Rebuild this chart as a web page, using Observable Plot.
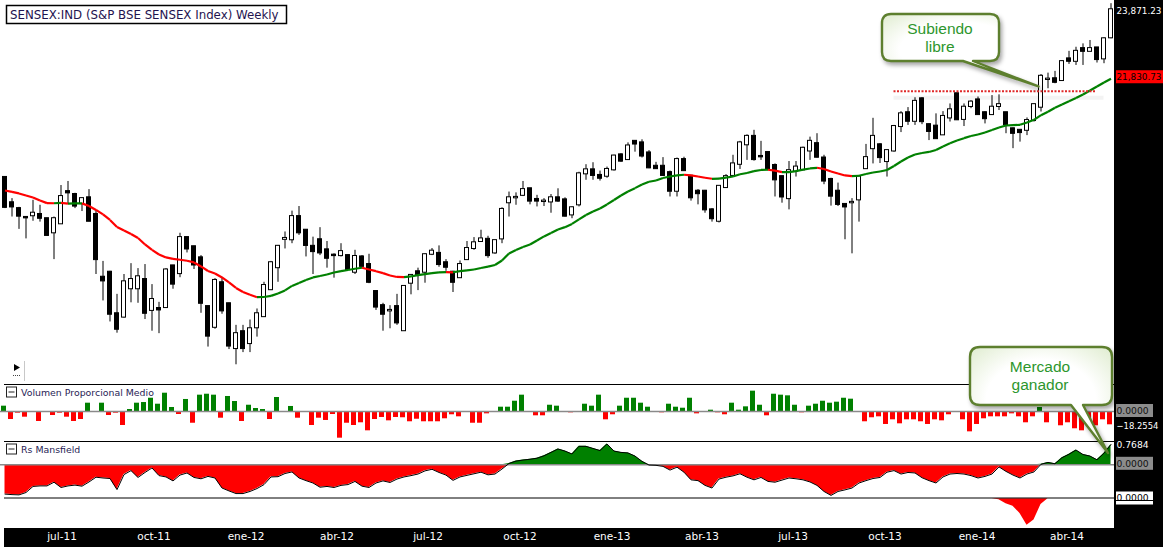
<!DOCTYPE html>
<html><head><meta charset="utf-8">
<script src="https://cdn.jsdelivr.net/npm/d3@7"></script>
<script src="https://cdn.jsdelivr.net/npm/@observablehq/plot@0.6"></script>
<style>
html,body{margin:0;padding:0;background:#fff;overflow:hidden;}
#wrap{position:relative;width:1163px;height:547px;background:#fff;overflow:hidden;}
</style></head><body><div id="wrap"></div>
<script>
// ---------- DATA ----------
const firstWeek = "2011-05-02"; // Monday of the first weekly candle
const openP = [19210,18590,18450,18240,18280,18310,18210,17880,18090,18860,
18790,18570,18710,18310,16880,16990,16100,16030,16630,16630,
16830,16170,16210,16230,17130,16960,17770,17560,17310,16250,
15820,16760,16310,15390,15730,15490,15810,16040,16610,17090,
17730,17720,18260,17940,17570,17720,17490,17370,17360,17360,
16990,17330,17160,16570,16270,16160,16250,15750,16750,17000,
16990,17390,17410,17200,16990,16870,17270,17520,17680,17730,
17420,17740,18590,18710,18770,18930,18670,18620,18610,18710,
18660,18300,18540,19300,19400,19260,19240,19400,19780,19660,
20130,20090,19830,19490,19490,19330,18870,19660,19240,18870,
18870,18420,18150,18960,19260,19540,20040,20260,19740,19840,
19510,19230,18690,19360,19400,19880,20070,19700,19160,18870,
18550,18590,18660,19430,19940,20040,19610,19880,20520,20890,
20660,21270,20570,20530,20300,20750,21410,20710,21060,21240,
20890,20840,21060,20890,20460,20420,20420,20680,21040,21810,
21830,21780,22400,22330,22700,22620,22720,22400,23020];
const highP = [19220,18690,18480,18250,18650,18530,18220,18250,19010,19110,
18820,18700,18910,18410,17230,17010,16510,16940,17180,17070,
17160,16720,16340,17070,17140,17870,17780,17570,17360,16260,
16850,16880,16320,15860,15860,15970,16200,16770,17230,17590,
17900,18390,18500,17950,17780,18000,17680,17400,17630,17380,
17480,17360,17390,16580,16320,16270,16510,16690,16930,17080,
17400,17520,17580,17270,17010,17240,17680,17770,17940,17800,
17700,18470,18850,18830,19110,18940,18770,18690,18790,18930,
18710,18490,19340,19530,19580,19370,19470,19770,19810,20090,
20150,20170,19890,19590,19710,19370,19700,19720,19260,18910,
18890,18450,18990,19280,19770,20130,20300,20420,20130,19850,
19550,19240,19610,19610,19980,20240,20330,19770,19190,19070,
18560,18690,19220,20050,20740,20070,19900,20550,20920,21030,
21300,21300,20590,20860,20920,21130,21430,21130,21220,21320,
20920,21360,21380,20900,20480,20430,20750,21130,21950,21990,
22040,22350,22620,22740,22840,22940,22730,23020,24060];
const lowP = [18450,18250,17960,17740,18150,18130,17800,17270,18090,18570,
18450,18380,18140,16940,16370,15930,15700,16010,16330,16320,
15980,15740,15690,16220,16620,16870,17420,17050,16110,15420,
15780,16090,15370,15070,15310,15310,15620,16030,16590,16770,
17510,17630,17820,17330,16940,17360,17080,16860,17330,17030,
16940,17100,16740,16170,15740,15790,15860,15740,16500,16590,
16750,17360,17100,17010,16550,16860,17260,17480,17670,17300,
17390,17630,18250,18530,18740,18540,18490,18500,18340,18600,
18250,18210,18490,19140,19140,19120,19190,19370,19590,19640,
19850,19700,19430,19410,19240,18730,18730,19370,18630,18540,
18340,18130,18110,18950,19240,19410,19640,19620,19640,19380,
18730,18580,18420,19220,19380,19640,19700,19030,18510,18500,
17720,17400,18130,19420,19550,19560,19220,19850,20360,20550,
20550,20570,20150,20180,20290,20640,20680,20520,21000,20820,
20590,20820,20950,20330,19940,20110,20280,20640,20910,21550,
21690,21760,22240,22210,22210,22620,22280,22260,22990];
const closeP = [18480,18490,18270,18230,18340,18220,17820,18210,18740,18830,
18510,18690,18150,17270,16800,16090,15780,16780,16830,16890,
16110,16400,16180,17040,16730,17770,17510,17150,16320,15640,
16810,16160,15440,15690,15390,15790,16100,16700,17200,17570,
17750,18260,17880,17590,17450,17420,17300,17360,17450,17050,
17340,17120,16770,16240,16090,16170,15910,16680,16920,16920,
17380,17460,17160,17100,16770,17160,17520,17650,17740,17360,
17700,18430,18710,18720,18910,18630,18630,18630,18710,18630,
18270,18470,19300,19400,19260,19190,19410,19750,19620,20010,
20060,19750,19450,19430,19260,18870,19660,19380,18710,18810,
18420,18210,18990,19230,19550,20090,20260,19660,19730,19410,
19150,18730,19380,19470,19950,20130,19720,19120,18750,18550,
18490,18600,19220,19710,20260,19710,19890,20520,20860,20660,
21200,20650,20390,20200,20790,20970,20700,21040,21180,20840,
20730,21040,21110,20570,20340,20360,20680,21110,21900,21820,
21730,22320,22330,22620,22620,22700,22380,22990,23871.23];
const movingAvg = [18889,18853,18816,18767,18719,18646,18581,18579,18588,18569,
18574,18576,18514,18418,18311,18181,18017,17935,17854,17762,
17613,17488,17386,17319,17285,17267,17244,17207,17118,17018,
16963,16876,16767,16648,16562,16502,16449,16453,16477,16530,
16594,16691,16756,16821,16876,16908,16941,16985,17013,17040,
17067,17089,17051,17013,16970,16919,16886,16882,16898,16926,
16948,16970,16985,16994,16989,17013,17029,17051,17084,17113,
17151,17251,17409,17488,17556,17613,17704,17797,17877,17958,
18012,18087,18193,18299,18382,18454,18550,18658,18767,18865,
18946,19036,19103,19135,19197,19234,19260,19277,19260,19234,
19202,19177,19180,19205,19234,19289,19322,19367,19397,19402,
19379,19342,19344,19367,19404,19435,19452,19422,19359,19309,
19260,19242,19252,19297,19334,19359,19397,19498,19612,19714,
19790,19829,19855,19906,19997,20080,20152,20213,20271,20310,
20362,20428,20495,20548,20556,20566,20628,20700,20825,20916,
21025,21115,21205,21293,21390,21501,21613,21725,21830.73];
const volumenProp = [7.3,-11.0,-2.3,-7.8,0,-13.7,0,-5.5,-2.3,-7.8,
-13.7,-11.0,11.4,0,11.4,-5.5,-2.3,-19.2,2.7,11.4,
12.3,18.2,10.0,25.1,5.5,-4.1,16.5,-16.1,22.4,23.7,
22.4,-9.2,20.6,13.7,-13.7,8.6,4.1,2.7,-11.0,19.2,
0,6.9,-9.2,0,-19.2,-9.2,-12.3,-4.1,-36.6,-16.1,
-19.2,-15.5,-26.5,-11.0,-8.2,-12.8,-8.2,-8.6,-14.1,-10.6,
-14.1,-14.1,-14.1,-10.0,-4.5,-7.3,0,-16.1,-16.1,-3.2,
0,5.9,5.9,14.1,22.4,0,-5.9,-5.9,8.6,7.3,
0,-1.8,0,10.0,7.3,22.4,-11.4,-4.5,7.3,18.2,
18.2,11.4,5.9,0,-1.8,10.0,5.9,4.5,18.2,-3.2,
0,1.8,-1.8,-4.5,11.4,1.8,6.4,27.9,8.6,-5.9,
23.7,22.4,21.5,8.6,-1.8,7.3,10.0,14.1,11.4,12.8,
18.2,16.9,0,-14.1,-8.6,-7.3,-17.8,-11.4,-16.9,-11.4,
-11.4,-14.1,-17.8,-11.4,-12.8,-4.5,0,-11.4,-27.9,-17.8,
-10.0,-7.3,-7.3,-7.3,-3.2,-7.3,-15.5,-7.3,5.5,-15.5,
0,-19.6,-15.5,-23.7,-26.5,-21.0,-19.6,-11.4,-18.2554];
const rsMansfield = [-1.11,-1.13,-1.14,-1.05,-0.82,-0.80,-0.80,-0.66,-0.86,-0.80,
-0.77,-0.81,-0.65,-0.47,-0.50,-0.52,-0.94,-0.37,-0.22,-0.48,
-0.29,-0.12,-0.41,-0.46,-0.61,-0.39,-0.31,-0.48,-0.53,-0.44,
-0.50,-0.88,-0.99,-1.09,-1.09,-1.01,-0.90,-0.75,-0.46,-0.45,
-0.33,-0.27,-0.50,-0.60,-0.69,-0.85,-0.82,-0.86,-0.78,-0.75,
-0.63,-0.81,-0.86,-0.69,-0.61,-0.67,-0.54,-0.46,-0.41,-0.35,
-0.23,-0.17,-0.29,-0.39,-0.59,-0.46,-0.40,-0.34,-0.28,-0.38,
-0.35,-0.16,0.05,0.14,0.18,0.21,0.25,0.34,0.47,0.60,
0.52,0.41,0.70,0.70,0.62,0.54,0.79,0.52,0.47,0.45,
0.33,0.13,-0.01,-0.02,-0.06,-0.20,-0.09,-0.28,-0.57,-0.60,
-0.78,-0.88,-0.54,-0.47,-0.42,-0.34,-0.47,-0.57,-0.48,-0.63,
-0.66,-0.58,-0.50,-0.53,-0.57,-0.65,-0.78,-1.01,-1.16,-1.01,
-0.95,-0.88,-0.69,-0.60,-0.52,-0.48,-0.28,-0.22,-0.35,-0.29,
-0.31,-0.49,-0.60,-0.69,-0.46,-0.35,-0.33,-0.35,-0.41,-0.50,
-0.44,-0.35,-0.08,-0.25,-0.39,-0.50,-0.35,-0.27,0.02,0.09,
0.04,0.27,0.40,0.56,0.39,0.33,0.19,0.44,0.7684];
// third (lower) indicator: non-zero stretch starting at week index 141 (0-based)
const lowerStart = 141;
const lowerValues = [0,-0.04,-0.19,-0.28,-0.56,-1.0,-0.80,-0.22,0];
const resistanceLevel = 21480, resistanceFrom = 127, resistanceTo = 156;
const tickLabels = ["jul-11","oct-11","ene-12","abr-12","jul-12","oct-12","ene-13","abr-13","jul-13","oct-13","ene-14","abr-14"];
const tickDates = ["2011-07-01","2011-10-01","2012-01-01","2012-04-01","2012-07-01","2012-10-01","2013-01-01","2013-04-01","2013-07-01","2013-10-01","2014-01-01","2014-04-01"];

// ---------- BUILD ----------
const wrap = document.getElementById("wrap");
const n = openP.length;
const d0 = new Date(firstWeek + "T00:00:00Z");
const dates = d3.range(n).map(i => d3.utcDay.offset(d0, 7 * i));
const DAY = 864e5;
const candles = dates.map((d, i) => ({date: d, o: openP[i], h: highP[i], l: lowP[i], c: closeP[i]}));
const maSegs = d3.range(n - 1).map(i => ({x1: dates[i], x2: dates[i + 1], y1: movingAvg[i], y2: movingAvg[i + 1], up: movingAvg[i + 1] >= movingAvg[i]}));
const volData = dates.map((d, i) => ({date: d, v: volumenProp[i]}));
const rsData = dates.map((d, i) => ({date: d, v: rsMansfield[i]}));
const lowerData = lowerValues.map((v, k) => ({date: dates[lowerStart + k], v}));
const ticks = tickDates.map((t, k) => ({date: new Date(t + "T00:00:00Z"), label: tickLabels[k]}));

const xOpts = {type: "utc", domain: [dates[0], dates[n - 1]], range: [4.5, 1110.5], axis: null};
const baseStyle = {background: "transparent", fontFamily: "DejaVu Sans, sans-serif", overflow: "visible"};
function place(el, top) {
  el.style.position = "absolute"; el.style.left = "0px"; el.style.top = top + "px";
  wrap.appendChild(el); return el;
}
const GREEN = "#008000", RED = "#ff0000";

// main price panel
const mainPlot = Plot.plot({
  width: 1163, height: 384, margin: 0,
  x: xOpts,
  y: {type: "log", domain: [14690, 24160], range: [384, 0], axis: null},
  color: {type: "identity"},
  style: baseStyle,
  marks: [
    Plot.ruleY([{y: resistanceLevel * 0.9915, x1: dates[resistanceFrom], x2: dates[resistanceTo + 1]}],
      {y: "y", x1: "x1", x2: "x2", stroke: "#dcdcdc", strokeWidth: 4, strokeOpacity: 0.35}),
    Plot.ruleX(candles, {x: "date", y1: "l", y2: "h", stroke: "#000", strokeWidth: 1}),
    Plot.rect(candles, {
      x1: d => new Date(+d.date - 2 * DAY), x2: d => new Date(+d.date + 2 * DAY),
      y1: "o", y2: "c", fill: d => d.c >= d.o ? "#fff" : "#000",
      stroke: "#000", strokeWidth: 1, insetTop: -0.5, insetBottom: -0.5
    }),
    Plot.link(maSegs, {x1: "x1", y1: "y1", x2: "x2", y2: "y2", stroke: d => d.up ? GREEN : RED, strokeWidth: 2.2}),
    Plot.ruleY([{y: resistanceLevel, x1: dates[resistanceFrom], x2: dates[resistanceTo]}],
      {y: "y", x1: "x1", x2: "x2", stroke: "#e02828", strokeWidth: 2, strokeDasharray: "2,1.5"})
  ]
});
place(mainPlot, 0);

// volume panel
const volPlot = Plot.plot({
  width: 1163, height: 57, margin: 0,
  x: xOpts,
  y: {domain: [-41.16, 37.04], range: [57, 0], axis: null},
  color: {type: "identity"},
  style: baseStyle,
  marks: [
    Plot.rect(volData, {x1: d => new Date(+d.date - 2.5 * DAY), x2: d => new Date(+d.date + 2.5 * DAY), y1: 0, y2: "v",
      fill: d => d.v >= 0 ? GREEN : RED, dx: -1}),
    Plot.ruleY([0], {stroke: "#8a8a8a", strokeWidth: 1.5})
  ]
});
place(volPlot, 384);

// Rs Mansfield panel
const rsPlot = Plot.plot({
  width: 1163, height: 57, margin: 0,
  x: xOpts,
  y: {domain: [-1.277, 0.883], range: [57, 0], axis: null},
  style: baseStyle,
  marks: [
    Plot.area(rsData, {x1: "date", y1: 0, y2: d => Math.min(d.v, 0), fill: RED}),
    Plot.area(rsData, {x1: "date", y1: 0, y2: d => Math.max(d.v, 0), fill: GREEN}),
    Plot.ruleY([0], {stroke: "#8a8a8a", strokeWidth: 1.5}),
    Plot.line(rsData, {x: "date", y: "v", stroke: "#000", strokeWidth: 1})
  ]
});
place(rsPlot, 441);

// lower panel
const lowPlot = Plot.plot({
  width: 1163, height: 30, margin: 0,
  x: xOpts,
  y: {domain: [-1.126, 0.011], range: [30, 0], axis: null},
  style: baseStyle,
  marks: [
    Plot.area(lowerData, {x1: "date", y1: 0, y2: "v", fill: RED})
  ]
});
place(lowPlot, 498);

// time axis strip
const axisPlot = Plot.plot({
  width: 1163, height: 19, margin: 0,
  x: xOpts,
  y: {domain: [0, 1], range: [19, 0], axis: null},
  style: {background: "#000", fontFamily: "DejaVu Sans, sans-serif"},
  marks: [
    Plot.text(ticks, {x: "date", y: 0.5, text: "label", fill: "#fff", fontSize: 10.5, dx: -3, dy: -1})
  ]
});
place(axisPlot, 528);

// ---------- overlay: frame, labels, callouts ----------
const xsS = mainPlot.scale("x"), ysS = mainPlot.scale("y"), rsS = rsPlot.scale("y"), vS = volPlot.scale("y");
const xs = v => xsS.apply(v), ys = v => ysS.apply(v), rsY = v => rsS.apply(v), vY = v => vS.apply(v);
const svg = d3.create("svg").attr("width", 1163).attr("height", 547)
  .style("position", "absolute").style("left", "0px").style("top", "0px")
  .style("font-family", "DejaVu Sans, sans-serif");
const defs = svg.append("defs");
const grad = defs.append("radialGradient").attr("id", "bub").attr("cx", "50%").attr("cy", "50%").attr("r", "70%");
grad.append("stop").attr("offset", "55%").attr("stop-color", "#ffffff");
grad.append("stop").attr("offset", "100%").attr("stop-color", "#dfeccf");

// right strip and left gap of bottom strip
svg.append("rect").attr("x", 1114).attr("y", 0).attr("width", 49).attr("height", 547).attr("fill", "#000");
svg.append("rect").attr("x", 0).attr("y", 528).attr("width", 4).attr("height", 19).attr("fill", "#fff");
// panel separators
[384.5, 441.5, 498].forEach(y => svg.append("line").attr("x1", 4).attr("x2", 1114).attr("y1", y).attr("y2", y)
  .attr("stroke", "#000").attr("stroke-width", 1));

// title
svg.append("rect").attr("x", 6.5).attr("y", 5.5).attr("width", 280).attr("height", 18)
  .attr("fill", "#fff").attr("stroke", "#000").attr("stroke-width", 1.5);
svg.append("text").attr("x", 10).attr("y", 18.5).attr("font-size", 11.8).attr("fill", "#1f1450")
  .text("SENSEX:IND (S&P BSE SENSEX Index) Weekly");

// panel titles
function panelTitle(y, label) {
  svg.append("rect").attr("x", 6.5).attr("y", y + 0.5).attr("width", 10).attr("height", 10)
    .attr("fill", "#fff").attr("stroke", "#222").attr("stroke-width", 1);
  svg.append("line").attr("x1", 8.5).attr("x2", 14.5).attr("y1", y + 5.5).attr("y2", y + 5.5).attr("stroke", "#222");
  svg.append("text").attr("x", 21).attr("y", y + 9).attr("font-size", 9.4).attr("fill", "#281c55").text(label);
}
panelTitle(386.5, "Volumen Proporcional Medio");
panelTitle(443.5, "Rs Mansfield");

// play control
svg.append("path").attr("d", "M14,364 L20,367.5 L14,371 Z").attr("fill", "#000");
svg.append("line").attr("x1", 13).attr("x2", 21).attr("y1", 375.5).attr("y2", 375.5).attr("stroke", "#444").attr("stroke-dasharray", "1,1");
svg.append("line").attr("x1", 24.5).attr("x2", 24.5).attr("y1", 361).attr("y2", 381).attr("stroke", "#c8c8c8");

// right-hand value labels
function valueLabel(yc, text, opts) {
  if (opts.box) svg.append("rect").attr("x", 1116).attr("y", yc - 6.5).attr("width", opts.w || 47).attr("height", 13).attr("fill", opts.box);
  svg.append("text").attr("x", 1116.5).attr("y", yc + 3.3).attr("font-size", opts.fs || 9.2)
    .attr("textLength", opts.len || null).attr("lengthAdjust", "spacingAndGlyphs")
    .attr("fill", opts.color).text(text);
}
const fmt = d3.format(",.2f");
valueLabel(ys(closeP[n - 1]) + 1.5, fmt(closeP[n - 1]), {color: "#ffffff", len: 45});
valueLabel(ys(movingAvg[n - 1]) - 1.5, fmt(movingAvg[n - 1]), {color: "#000", box: "#ff0000", len: 45});
valueLabel(384 + vY(0) - 0.5, "0.0000", {color: "#111", box: "#8c8c8c", w: 37});
valueLabel(384 + vY(volumenProp[n - 1]) + 1, d3.format(".4f")(volumenProp[n - 1]), {color: "#fff", len: 42});
valueLabel(441 + rsY(rsMansfield[n - 1]) + 1, d3.format(".4f")(rsMansfield[n - 1]), {color: "#fff"});
valueLabel(441 + rsY(0) - 1, "0.0000", {color: "#111", box: "#8c8c8c", w: 37});
valueLabel(498, "0.0000", {color: "#000", box: "#ffffff", w: 37});
svg.append("line").attr("x1", 1114).attr("x2", 1153).attr("y1", 500.5).attr("y2", 500.5).attr("stroke", "#000");

// callout bubbles
function bubble(x, y, w, h, r, t0, t1, tipX, tipY, lines, cx, baselines) {
  const b = y + h;
  const d = `M${x + r},${y} H${x + w - r} Q${x + w},${y} ${x + w},${y + r} V${b - r} Q${x + w},${b} ${x + w - r},${b} ` +
    `H${t1} L${tipX},${tipY} L${t0},${b} H${x + r} Q${x},${b} ${x},${b - r} V${y + r} Q${x},${y} ${x + r},${y} Z`;
  svg.append("path").attr("d", d).attr("fill", "url(#bub)").attr("stroke", "#5d7f2e").attr("stroke-width", 2.4)
    .attr("stroke-linejoin", "round").style("filter", "drop-shadow(2px 3px 2px rgba(0,0,0,0.35))");
  lines.forEach((t, k) => svg.append("text").attr("x", cx).attr("y", baselines[k]).attr("text-anchor", "middle")
    .attr("font-family", "Liberation Sans, Arial, sans-serif").attr("font-size", 15.5).attr("fill", "#2d962d").text(t));
}
bubble(882, 14, 117, 47, 9, 963, 973, xs(dates[148]) - 2, ys(21600), ["Subiendo", "libre"], 940, [34, 51.5]);
bubble(970, 347, 142, 58, 10, 1071, 1083, xs(dates[n - 1]) - 2.5, 441 + rsY(rsMansfield[n - 1]) + 9, ["Mercado", "ganador"], 1040, [371.5, 389.5]);

wrap.appendChild(svg.node());
</script></body></html>
